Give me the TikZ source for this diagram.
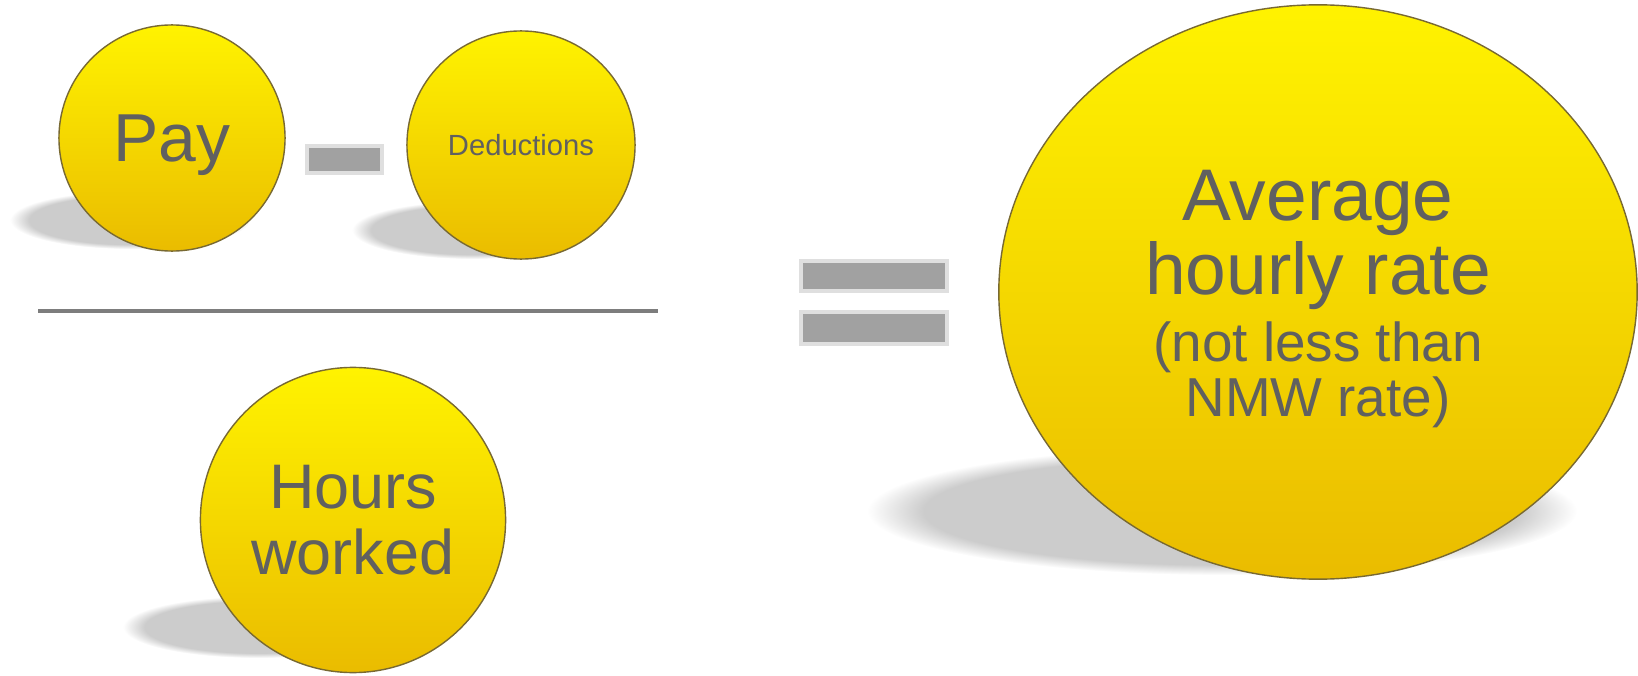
\documentclass[tikz,border=0pt]{standalone}
\usepackage{fontspec}
\setmainfont{Liberation Sans}
\usetikzlibrary{shapes.geometric}

\definecolor{coinTop}{RGB}{255,243,0}
\definecolor{coinMid}{RGB}{255,224,0}
\definecolor{coinBot}{RGB}{234,188,0}
\definecolor{coinRim}{RGB}{120,105,50}
\definecolor{inkGray}{RGB}{96,96,96}
\definecolor{barGray}{RGB}{161,161,161}
\definecolor{lineGray}{RGB}{125,125,125}

% soft grey blob under each coin
\pgfdeclareradialshading{softshadow}{\pgfpoint{0bp}{0bp}}{color(0bp)=(black!20); color(21bp)=(black!20); color(25bp)=(white); color(50bp)=(white)}

\newcommand{\subline}{\fontsize{15.6}{16}\selectfont}

\tikzset{
  coin/.style={circle, draw=coinRim, line width=0.4pt, top color=coinTop, middle color=coinMid, bottom color=coinBot,
    text=inkGray, align=center, inner sep=0pt},
  coinlabel/.style={text=inkGray, align=center, inner sep=0pt},
  shadowblob/.style={shading=softshadow},
  barsign/.style={rectangle, fill=barGray, draw=gray!25, line width=1.2pt, inner sep=0pt},
  fracline/.style={draw=lineGray, line width=1.2pt},
}

\begin{document}
\begin{tikzpicture}[x=0.01cm,y=0.01cm]
\useasboundingbox (0,0) rectangle (1638,675);

% shadows
\shade[shadowblob] (130,455) ellipse (120 and 29);
\shade[shadowblob] (472,445) ellipse (120 and 29);
\shade[shadowblob] (258,48) ellipse (135 and 31);
\shade[shadowblob] (1222,164) ellipse (355 and 64);

% numerator
\node[coin, minimum size=2.26cm, text depth=0pt, font=\fontsize{19.3}{20}\selectfont] (pay) at (172,537) {Pay};
\node[coin, minimum size=2.28cm, font=\fontsize{8.3}{9}\selectfont] (deduct) at (521,530) {Deductions};
\node[barsign, minimum width=0.75cm, minimum height=0.27cm] (minus) at (344.5,515.5) {};

% fraction bar
\coordinate (barL) at (38,364);
\coordinate (barR) at (658,364);
\draw[fracline] (barL) -- (barR);

% denominator
\node[coin, minimum size=3.05cm, font=\fontsize{17.9}{18.8}\selectfont] (hours) at (353,155) {Hours\\worked};

% equals
\node[barsign, minimum width=1.46cm, minimum height=0.30cm] (eqtop) at (874,399) {};
\node[barsign, minimum width=1.46cm, minimum height=0.32cm] (eqbot) at (874,347) {};

% result
\node[coin, ellipse, minimum width=6.38cm, minimum height=5.74cm] (avg) at (1318,383) {};
\node[coinlabel, font=\fontsize{20.8}{21}\selectfont] (avgtext) at (1318,376)
  {Average\\hourly rate\\[-2pt]\subline (not less than\\[-5.2pt]\subline NMW rate)};
\end{tikzpicture}
\end{document}
